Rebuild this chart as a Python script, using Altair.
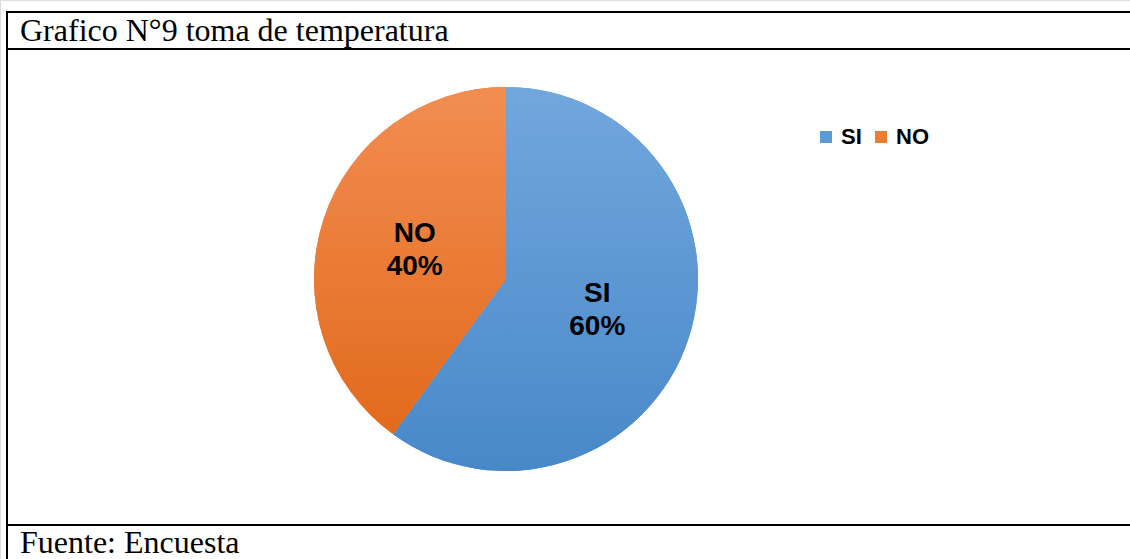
import altair as alt
import pandas as pd

categories = ["SI", "NO"]
values = [60, 40]
labels = ["SI\n60%", "NO\n40%"]
colors = ["#5B9BD5", "#ED7D31"]

df = pd.DataFrame({"cat": categories, "val": values, "label": labels, "ord": [0, 1]})

W, H = 1130, 559
CX, CY, R = 506, 279, 192

base = alt.Chart(df).encode(
    theta=alt.Theta("val:Q", stack=True),
    order=alt.Order("ord:Q"),
)

grad_si = {"gradient": "linear", "x1": 0, "y1": 0, "x2": 0, "y2": 1,
           "stops": [{"offset": 0, "color": "#72A7DD"}, {"offset": 1, "color": "#4888C9"}]}
grad_no = {"gradient": "linear", "x1": 0, "y1": 0, "x2": 0, "y2": 1,
           "stops": [{"offset": 0, "color": "#F28D52"}, {"offset": 1, "color": "#E26A1C"}]}

pie = base.mark_arc(outerRadius=R).encode(
    x=alt.value(CX), y=alt.value(CY),
    color=alt.Color(
        "cat:N",
        scale=alt.Scale(domain=categories, range=colors),
        sort=categories,
        legend=alt.Legend(
            title=None, orient="none", legendX=815, legendY=126,
            direction="horizontal", symbolType="square", symbolSize=144,
            symbolStrokeWidth=0, labelFont="Liberation Sans", labelFontWeight="bold",
            labelFontSize=22, labelColor="#000000", symbolOffset=0, columnPadding=8,
            labelOffset=4,
        ),
    ),
)

pie_grad = base.mark_arc(outerRadius=R).encode(
    x=alt.value(CX), y=alt.value(CY),
    fill=alt.condition(alt.datum.cat == "SI", alt.value(grad_si), alt.value(grad_no)),
)

text = base.mark_text(
    radius=96, dy=-15, font="Liberation Sans", fontWeight="bold", fontSize=28,
    lineBreak="\n", lineHeight=33, color="#000000", baseline="middle", align="center",
).encode(x=alt.value(CX), y=alt.value(CY), text="label:N")

frame_df = pd.DataFrame({"k": [0]})
fr = alt.Chart(frame_df)
lines = [
    fr.mark_rule(color="#000000", strokeWidth=2).encode(x=alt.value(7), x2=alt.value(W), y=alt.value(12)),
    fr.mark_rule(color="#000000", strokeWidth=2).encode(x=alt.value(7), x2=alt.value(W), y=alt.value(49)),
    fr.mark_rule(color="#000000", strokeWidth=2).encode(x=alt.value(7), x2=alt.value(W), y=alt.value(525)),
    fr.mark_rule(color="#000000", strokeWidth=2).encode(x=alt.value(7), y=alt.value(11), y2=alt.value(H)),
]
title = fr.mark_text(font="Liberation Serif", fontSize=32, align="left", baseline="alphabetic",
                     color="#000000").encode(x=alt.value(20), y=alt.value(41), text=alt.value("Grafico N°9 toma de temperatura"))
footer = fr.mark_text(font="Liberation Serif", fontSize=32, align="left", baseline="alphabetic",
                      color="#000000").encode(x=alt.value(20), y=alt.value(553), text=alt.value("Fuente: Encuesta"))

chart = alt.layer(pie, pie_grad, text, *lines, title, footer).properties(
    width=W, height=H, padding=0, autosize=alt.AutoSizeParams(type="none"),
).configure_view(stroke=None).configure(background="#FFFFFF")

chart.save("out.html", embed_options={"renderer": "svg", "actions": False})
